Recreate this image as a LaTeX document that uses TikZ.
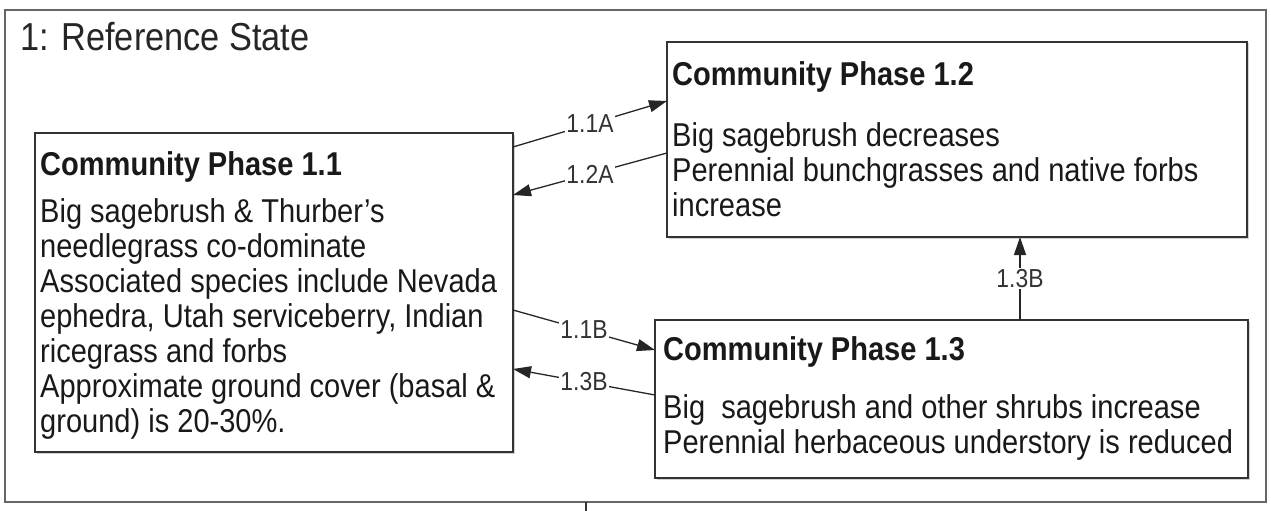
\documentclass[tikz,border=0pt]{standalone}
\usepackage{fontspec}
\setmainfont{Liberation Sans}[FakeStretch=0.88]
\usetikzlibrary{arrows.meta,calc,shadows}
\begin{document}
\begin{tikzpicture}[x=1pt,y=-1pt,
  frame/.style={draw=black!60, line width=2.2pt, inner sep=0pt, outer sep=0pt, anchor=north west},
  phasebox/.style={draw=black!80, line width=1.5pt, fill=white, inner sep=0pt, outer sep=0pt, anchor=north west,
    drop shadow={shadow xshift=1.5pt, shadow yshift=-1.5pt, opacity=0.35}},
  phasetext/.style={anchor=north west, inner sep=0pt, align=left, font=\fontsize{33}{35}\selectfont, text=black!90},
  conn/.style={draw=black!85, line width=1.3pt, -{Triangle[length=18pt,width=12pt]}},
  lab/.style={fill=white, inner sep=1pt, font=\fontsize{26}{28}\selectfont, text=black!80}
]
\useasboundingbox (0,0) rectangle (1271,511);
\node[frame, minimum width=1261pt, minimum height=492pt] (state) at (5,10) {};
\node[anchor=base west, inner sep=0pt, font=\fontsize{39}{42}\selectfont, text=black!85] (title) at (20,51) {1: Reference State};

\node[phasebox, minimum width=478pt, minimum height=319pt] (p11) at (35,133) {};
\node[phasebox, minimum width=580pt, minimum height=195pt] (p12) at (667,42) {};
\node[phasebox, minimum width=593pt, minimum height=158pt] (p13) at (655,320) {};

\node[phasetext] (t11) at (40,151.5) {\textbf{Community Phase 1.1}\\[12pt]
Big sagebrush \& Thurber’s\\
needlegrass co-dominate\\
Associated species include Nevada\\
ephedra, Utah serviceberry, Indian\\
ricegrass and forbs\\
Approximate ground cover (basal \&\\
ground) is 20-30\%.};

\node[phasetext] (t12) at (672,61.5) {\textbf{Community Phase 1.2}\\[26pt]
Big sagebrush decreases\\
Perennial bunchgrasses and native forbs\\
increase};

\node[phasetext] (t13) at (663,336.5) {\textbf{Community Phase 1.3}\\[23pt]
Big\ \ sagebrush and other shrubs increase\\
Perennial herbaceous understory is reduced};

\draw[conn] ($(p11.north east)+(0,14)$) -- node[lab] {1.1A} ($(p12.north west)+(0,59)$);
\draw[conn] ($(p12.north west)+(0,111)$) -- node[lab] {1.2A} ($(p11.north east)+(0,62)$);
\draw[conn] ($(p11.north east)+(0,177)$) -- node[lab] {1.1B} ($(p13.north west)+(0,30)$);
\draw[conn] ($(p13.north west)+(0,75)$) -- node[lab] {1.3B} ($(p11.north east)+(0,236)$);
\draw[conn] ($(p13.north west)+(365,0)$) -- node[lab] {1.3B} ($(p12.south west)+(353,0)$);

\coordinate (exit) at (586,511);
\draw[draw=black!80, line width=1.5pt] (state.south -| exit) -- (exit);
\end{tikzpicture}
\end{document}
